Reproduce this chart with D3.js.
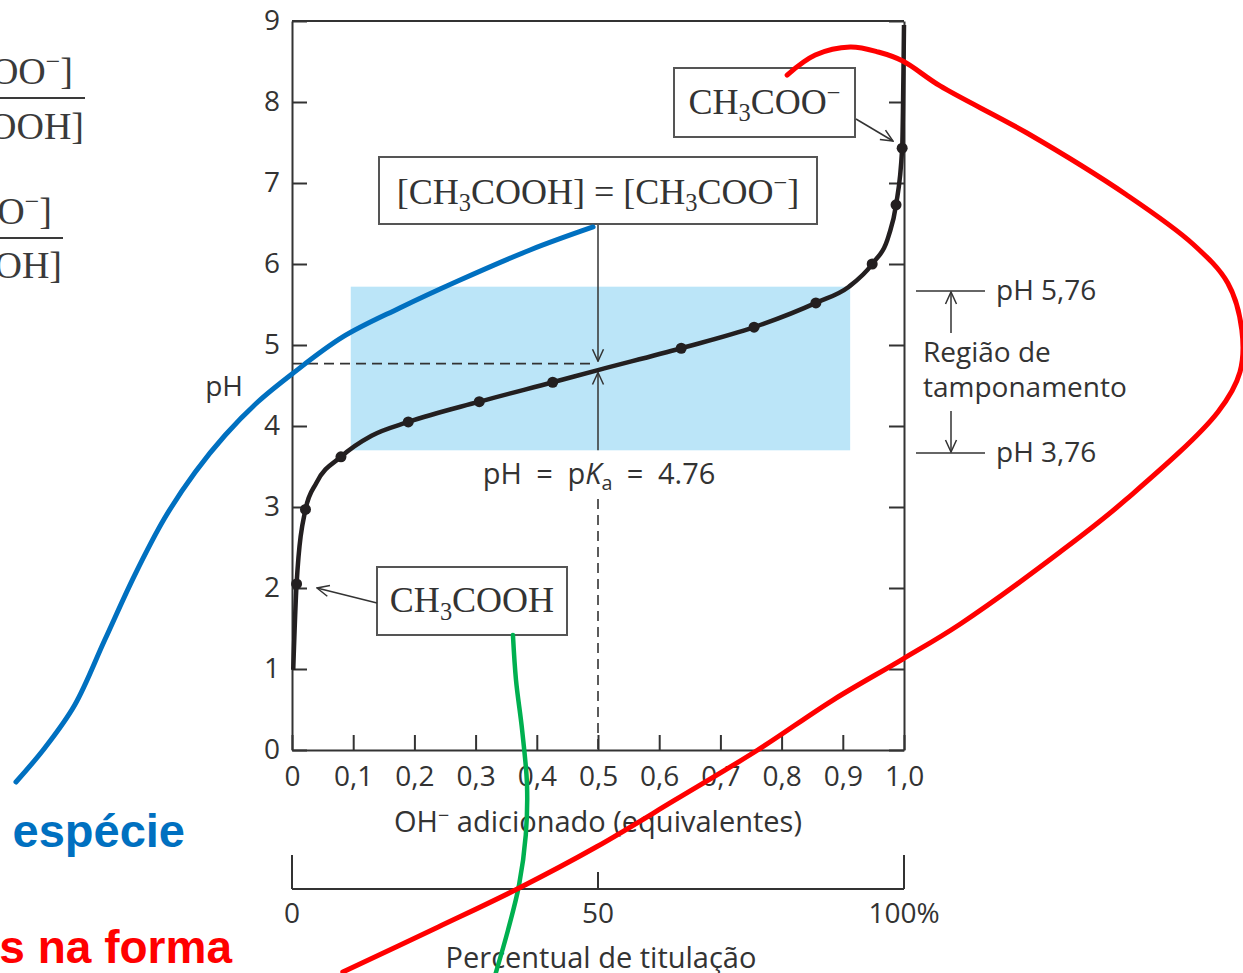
<!DOCTYPE html>
<html>
<head>
<meta charset="utf-8">
<script src="https://cdn.jsdelivr.net/npm/d3@7"></script>
<style>
  body { margin: 0; background: #fff; }
  svg { display: block; }
</style>
</head>
<body>
<div class="container"></div>
<script>
// titration curve of acetic acid (OH- equivalents vs pH)
const curveX  = [0.002, 0.0075, 0.022, 0.04, 0.08, 0.13, 0.19, 0.306, 0.426, 0.5, 0.636, 0.755, 0.856, 0.91, 0.948, 0.975, 0.987, 0.997, 1.0];
const curvePH = [0.99, 2.05, 2.97, 3.3, 3.62, 3.88, 4.05, 4.30, 4.54, 4.69, 4.96, 5.22, 5.52, 5.72, 6.0, 6.35, 6.73, 7.43, 8.95];
// measured points (dots)
const dotX  = [0.0075, 0.022, 0.08, 0.19, 0.306, 0.426, 0.636, 0.755, 0.856, 0.948, 0.987, 0.997];
const dotPH = [2.05, 2.97, 3.62, 4.05, 4.30, 4.54, 4.96, 5.22, 5.52, 6.0, 6.73, 7.43];

const xTicks = [0, 0.1, 0.2, 0.3, 0.4, 0.5, 0.6, 0.7, 0.8, 0.9, 1.0];
const yTicks = [0, 1, 2, 3, 4, 5, 6, 7, 8, 9];
const pctTicks = [0, 50, 100];
const pctLabels = ["0", "50", "100%"];

const pKa = 4.76;
const bufferX = [0.096, 0.912];     // shaded region
const bufferPH = [3.70, 5.72];
const bracketPH = [5.667, 3.667];   // drawn bracket marks at right
const bracketLabels = ["pH 5,76", "pH 3,76"];

// hand-drawn strokes (in chart units: equivalents, pH)
const blueX  = [0.492, 0.389, 0.271, 0.176, 0.083, 0.000, -0.056, -0.109, -0.158, -0.208, -0.257, -0.306, -0.355, -0.404, -0.451];
const bluePH = [6.457, 6.173, 5.790, 5.457, 5.099, 4.642, 4.296, 3.889, 3.432, 2.864, 2.160, 1.358, 0.556, 0.025, -0.395];
const greenX  = [0.361, 0.366, 0.376, 0.384, 0.382, 0.371, 0.353, 0.332];
const greenPH = [1.420, 0.864, 0.247, -0.432, -1.049, -1.667, -2.222, -2.778];
const redX  = [0.809, 0.855, 0.912, 0.958, 0.998, 1.059, 1.201, 1.364, 1.472, 1.529, 1.552, 1.549, 1.513, 1.364, 1.255, 1.092, 0.998, 0.884, 0.761, 0.626, 0.497, 0.368, 0.239, 0.083];
const redPH = [8.333, 8.580, 8.679, 8.617, 8.506, 8.198, 7.617, 6.852, 6.247, 5.765, 5.185, 4.667, 4.173, 3.099, 2.444, 1.556, 1.123, 0.617, 0.000, -0.617, -1.198, -1.716, -2.185, -2.741];

const width = 1243, height = 973;
const sans = "'Open Sans', 'Noto Sans', sans-serif";
const serif = "'Liberation Serif', 'DejaVu Serif', serif";
const ink = "#333";

const svg = d3.select(".container")
  .append("svg")
  .attr("width", width)
  .attr("height", height)
  .attr("viewBox", [0, 0, width, height]);

const x = d3.scaleLinear().domain([0, 1]).range([292, 904]);
const y = d3.scaleLinear().domain([0, 9]).range([750, 21]);
const pct = d3.scaleLinear().domain([0, 100]).range([292, 904]);

const defs = svg.append("defs");
defs.append("marker")
  .attr("id", "arr")
  .attr("viewBox", "0 0 14 14")
  .attr("refX", 13).attr("refY", 7)
  .attr("markerWidth", 14).attr("markerHeight", 14)
  .attr("markerUnits", "userSpaceOnUse")
  .attr("orient", "auto")
  .append("path")
  .attr("d", "M1,1.5 L13,7 L1,12.5")
  .attr("fill", "none").attr("stroke", ink).attr("stroke-width", 1.5);

// text with sub/superscripts
function rich(sel, parts, size) {
  let shift = 0;
  parts.forEach(([t, k]) => {
    const ts = sel.append("tspan").text(t);
    const target = k === "sub" ? size * 0.22 : k === "sup" ? -size * 0.36 : 0;
    ts.attr("dy", target - shift);
    shift = target;
    if (k === "sub" || k === "sup") ts.attr("font-size", size * 0.68);
    if (k === "it") ts.attr("font-style", "italic");
  });
  return sel;
}

const acetate = [["CH", ""], ["3", "sub"], ["COO", ""], ["\u2212", "sup"]];
const acid = [["CH", ""], ["3", "sub"], ["COOH", ""]];
const eqParts = [["[CH", ""], ["3", "sub"], ["COOH] = [CH", ""], ["3", "sub"], ["COO", ""], ["\u2212", "sup"], ["]", ""]];

// cut-off fractions at the left edge
const fracs = [
  { num: [["[CH", ""], ["3", "sub"], ["COO", ""], ["\u2212", "sup"], ["]", ""]], den: [["[CH", ""], ["3", "sub"], ["COOH]", ""]], nx: 73, dx: 84, ny: 84, line: 98, lx: 85, dy: 139 },
  { num: [["[CH", ""], ["3", "sub"], ["COO", ""], ["\u2212", "sup"], ["]", ""]], den: [["[CH", ""], ["3", "sub"], ["COOH]", ""]], nx: 52, dx: 62, ny: 224, line: 238, lx: 63, dy: 278 }
];
fracs.forEach(f => {
  rich(svg.append("text").attr("x", f.nx).attr("y", f.ny).attr("text-anchor", "end")
    .attr("font-family", serif).attr("font-size", 38).attr("fill", "#3a3a3a"), f.num, 38);
  svg.append("line").attr("x1", -5).attr("x2", f.lx).attr("y1", f.line).attr("y2", f.line)
    .attr("stroke", "#3a3a3a").attr("stroke-width", 2);
  rich(svg.append("text").attr("x", f.dx).attr("y", f.dy).attr("text-anchor", "end")
    .attr("font-family", serif).attr("font-size", 38).attr("fill", "#3a3a3a"), f.den, 38);
});

// buffer region
svg.append("rect")
  .attr("x", x(bufferX[0])).attr("y", y(bufferPH[1]))
  .attr("width", x(bufferX[1]) - x(bufferX[0]))
  .attr("height", y(bufferPH[0]) - y(bufferPH[1]))
  .attr("fill", "#bbe5f8");

// axes
const fmtComma = d => d === 0 ? "0" : d3.format(".1f")(d).replace(".", ",");
const gx = svg.append("g").attr("transform", `translate(0,${y(0)})`)
  .call(d3.axisBottom(x).tickValues(xTicks).tickSize(-15).tickSizeOuter(0).tickPadding(16).tickFormat(fmtComma));
const gy = svg.append("g").attr("transform", `translate(${x(0)},0)`)
  .call(d3.axisLeft(y).tickValues(yTicks).tickSize(-15).tickSizeOuter(0).tickPadding(12));
const gr = svg.append("g").attr("transform", `translate(${x(1)},0)`)
  .call(d3.axisRight(y).tickValues(yTicks).tickSize(-15).tickSizeOuter(0).tickFormat(""));
[gx, gy, gr].forEach(g => {
  g.selectAll("path, line").attr("stroke", ink).attr("stroke-width", 2);
  g.selectAll("text").attr("font-family", sans).attr("font-size", 28).attr("fill", ink);
});
svg.append("line").attr("x1", x(0)).attr("x2", x(1)).attr("y1", y(9)).attr("y2", y(9))
  .attr("stroke", ink).attr("stroke-width", 2);

svg.append("text").attr("x", 243).attr("y", 396).attr("text-anchor", "end")
  .attr("font-family", sans).attr("font-size", 28).attr("fill", ink).text("pH");
rich(svg.append("text").attr("x", x(0.5)).attr("y", 832).attr("text-anchor", "middle")
  .attr("font-family", sans).attr("font-size", 29).attr("fill", ink),
  [["OH", ""], ["\u2212", "sup"], [" adicionado (equivalentes)", ""]], 29);

// percent axis
const gp = svg.append("g");
gp.append("line").attr("x1", pct(0)).attr("x2", pct(100)).attr("y1", 889).attr("y2", 889)
  .attr("stroke", ink).attr("stroke-width", 2);
gp.selectAll(".pt").data(pctTicks).join("line")
  .attr("x1", d => pct(d)).attr("x2", d => pct(d))
  .attr("y1", 889).attr("y2", d => d === 50 ? 872 : 855)
  .attr("stroke", ink).attr("stroke-width", 2);
gp.selectAll(".pl").data(pctTicks).join("text")
  .attr("x", d => pct(d)).attr("y", 923)
  .attr("text-anchor", "middle")
  .attr("font-family", sans).attr("font-size", 28).attr("fill", ink)
  .text((d, i) => pctLabels[i]);
svg.append("text").attr("x", pct(50) + 3).attr("y", 968).attr("text-anchor", "middle")
  .attr("font-family", sans).attr("font-size", 29).attr("fill", ink).text("Percentual de titulação");

// pKa guides
svg.append("line").attr("x1", x(0)).attr("x2", x(0.49)).attr("y1", y(4.77)).attr("y2", y(4.77))
  .attr("stroke", ink).attr("stroke-width", 1.6).attr("stroke-dasharray", "10,6");
svg.append("line").attr("x1", x(0.5)).attr("x2", x(0.5)).attr("y1", y(3.1)).attr("y2", y(0))
  .attr("stroke", ink).attr("stroke-width", 1.6).attr("stroke-dasharray", "10,6");
svg.append("line").attr("x1", x(0.5)).attr("x2", x(0.5)).attr("y1", 224).attr("y2", y(4.8))
  .attr("stroke", ink).attr("stroke-width", 1.5).attr("marker-end", "url(#arr)");
svg.append("line").attr("x1", x(0.5)).attr("x2", x(0.5)).attr("y1", y(bufferPH[0])).attr("y2", y(4.66))
  .attr("stroke", ink).attr("stroke-width", 1.5).attr("marker-end", "url(#arr)");
rich(svg.append("text").attr("x", x(0.5) + 1).attr("y", 484).attr("text-anchor", "middle")
  .attr("font-family", sans).attr("font-size", 29).attr("fill", ink),
  [["pH\u2002=\u2002p", ""], ["K", "it"], ["a", "sub"], ["\u2002=\u2002" + String(pKa), ""]], 29);

// titration curve
const pts = curveX.map((d, i) => [x(d), y(curvePH[i])]);
svg.append("path").attr("d", d3.line().curve(d3.curveMonotoneX)(pts))
  .attr("fill", "none").attr("stroke", "#231f20").attr("stroke-width", 4.5);
svg.selectAll(".dot").data(dotX).join("circle")
  .attr("cx", d => x(d)).attr("cy", (d, i) => y(dotPH[i])).attr("r", 5.5).attr("fill", "#231f20");

// labelled boxes
function box(cx, cy, w, h, parts, dyBase) {
  svg.append("rect").attr("x", cx - w / 2).attr("y", cy - h / 2).attr("width", w).attr("height", h)
    .attr("fill", "#fff").attr("stroke", "#555").attr("stroke-width", 2);
  rich(svg.append("text").attr("x", cx).attr("y", cy + dyBase).attr("text-anchor", "middle")
    .attr("font-family", serif).attr("font-size", 36).attr("fill", "#333"), parts, 36);
}
box(x(0.5), 190.5, 438, 67, eqParts, 13);
box(764.5, 102.5, 181, 69, acetate, 11);
box(472, 601, 190, 68, acid, 11);
svg.append("line").attr("x1", 856).attr("y1", 119).attr("x2", 893).attr("y2", 141)
  .attr("stroke", ink).attr("stroke-width", 1.5).attr("marker-end", "url(#arr)");
svg.append("line").attr("x1", 377).attr("y1", 603).attr("x2", 317).attr("y2", 588)
  .attr("stroke", ink).attr("stroke-width", 1.5).attr("marker-end", "url(#arr)");

// buffer bracket at right
const bx0 = 916, bx1 = 985, bxm = 951;
bracketPH.forEach((p, i) => {
  svg.append("line").attr("x1", bx0).attr("x2", bx1).attr("y1", y(p)).attr("y2", y(p))
    .attr("stroke", ink).attr("stroke-width", 1.6);
  svg.append("text").attr("x", 996).attr("y", y(p) + 9)
    .attr("font-family", sans).attr("font-size", 28).attr("fill", ink).text(bracketLabels[i]);
});
svg.append("line").attr("x1", bxm).attr("x2", bxm).attr("y1", 333).attr("y2", y(bracketPH[0]) + 1)
  .attr("stroke", ink).attr("stroke-width", 1.5).attr("marker-end", "url(#arr)");
svg.append("line").attr("x1", bxm).attr("x2", bxm).attr("y1", 411).attr("y2", y(bracketPH[1]) - 1)
  .attr("stroke", ink).attr("stroke-width", 1.5).attr("marker-end", "url(#arr)");
svg.append("text").attr("x", 923).attr("y", 362)
  .attr("font-family", sans).attr("font-size", 28).attr("fill", ink).text("Região de");
svg.append("text").attr("x", 923).attr("y", 397)
  .attr("font-family", sans).attr("font-size", 28).attr("fill", ink).text("tamponamento");

// slide text (cut off at left)
svg.append("text").attr("x", 185).attr("y", 847).attr("text-anchor", "end")
  .attr("font-family", "'Liberation Sans', Arial, sans-serif").attr("font-weight", "bold")
  .attr("font-size", 47).attr("fill", "#0070c0").text("espécie");
svg.append("text").attr("x", 232).attr("y", 963).attr("text-anchor", "end")
  .attr("font-family", "'Liberation Sans', Arial, sans-serif").attr("font-weight", "bold")
  .attr("font-size", 46).attr("fill", "#ff0000").text("s na forma");

// hand-drawn strokes
const hand = d3.line().curve(d3.curveCatmullRom.alpha(0.5));
const strokes = [
  { xs: blueX, ys: bluePH, color: "#0070c0", w: 5 },
  { xs: greenX, ys: greenPH, color: "#00b050", w: 4.5 },
  { xs: redX, ys: redPH, color: "#ff0000", w: 5 }
];
strokes.forEach(s => {
  svg.append("path")
    .attr("d", hand(s.xs.map((d, i) => [x(d), y(s.ys[i])])))
    .attr("fill", "none").attr("stroke", s.color).attr("stroke-width", s.w)
    .attr("stroke-linecap", "round");
});
</script>
</body>
</html>
